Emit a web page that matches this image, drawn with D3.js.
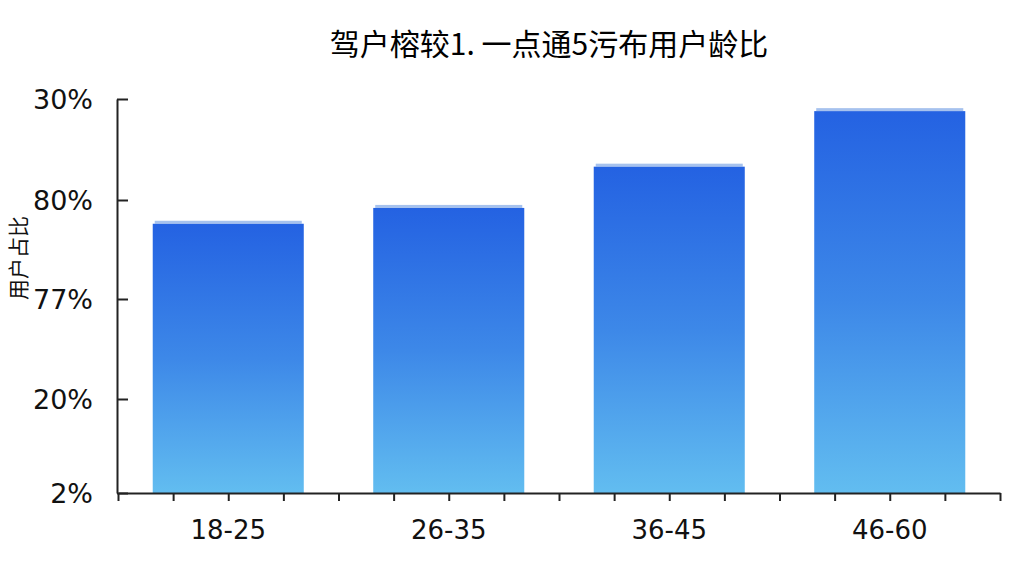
<!DOCTYPE html>
<html>
<head>
<meta charset="utf-8">
<script src="https://cdn.jsdelivr.net/npm/d3@7.9.0/dist/d3.min.js"></script>
<style>
  body { margin: 0; background: #fff; }
  svg { display: block; }
</style>
</head>
<body>
<div id="chart"></div>
<script>
// chart data
const title = '驾户榕较1. 一点通5污布用户龄比';
const yLabel = '用户占比';
const ageGroups = ['18-25', '26-35', '36-45', '46-60'];
const shares = [27.6, 29.2, 33.3, 38.8];
// y ticks (the labels are as printed on the picture)
const yTickValues = [0, 10, 20, 30, 40];
const yTickLabels = ['2%', '20%', '77%', '80%', '30%'];

const width = 1024;
const height = 576;
const margin = { top: 99, right: 24, bottom: 83, left: 117 };

const svg = d3.select('#chart')
    .append('svg')
    .attr('width', width)
    .attr('height', height)
    .attr('viewBox', `0 0 ${width} ${height}`);

// gradient for bars, dark blue on top to light blue at bottom
const defs = svg.append('defs');
const grad = defs.append('linearGradient')
    .attr('id', 'barGrad')
    .attr('x1', 0).attr('y1', 0)
    .attr('x2', 0).attr('y2', 1);
grad.append('stop').attr('offset', '0%').attr('stop-color', '#2462e2');
grad.append('stop').attr('offset', '50%').attr('stop-color', '#3d88e8');
grad.append('stop').attr('offset', '100%').attr('stop-color', '#62bdf0');

const xScale = d3.scaleBand()
    .domain(ageGroups)
    .range([margin.left + 1, width - margin.right])
    .paddingInner(0.315)
    .paddingOuter(0.1575);

// the printed grid is not evenly spaced, so use a piecewise scale
const yScale = d3.scaleLinear()
    .domain(yTickValues)
    .range([height - margin.bottom, 399, 299, 200, margin.top]);

// bars
const bars = svg.append('g').attr('class', 'bars');
bars.selectAll('rect.bar')
    .data(ageGroups)
    .join('rect')
    .attr('class', 'bar')
    .attr('x', (d) => xScale(d))
    .attr('y', (d, i) => yScale(shares[i]))
    .attr('width', xScale.bandwidth())
    .attr('height', (d, i) => yScale(0) - yScale(shares[i]))
    .attr('fill', 'url(#barGrad)');

// fuzzy top edge of the bars
bars.selectAll('rect.edge')
    .data(ageGroups)
    .join('rect')
    .attr('class', 'edge')
    .attr('x', (d) => xScale(d) + 2)
    .attr('y', (d, i) => yScale(shares[i]) - 3)
    .attr('width', xScale.bandwidth() - 4)
    .attr('height', 3)
    .attr('fill', '#5d8fe0')
    .attr('opacity', 0.55);

// x axis: ticks at every quarter band
const xTickScale = d3.scaleLinear()
    .domain([0, ageGroups.length * 4])
    .range(xScale.range());
const xAxis = d3.axisBottom(xTickScale)
    .tickValues(d3.range(0, ageGroups.length * 4 + 1))
    .tickFormat('')
    .tickSize(8)
    .tickSizeOuter(0);
const xg = svg.append('g')
    .attr('transform', `translate(0, ${yScale(0)})`)
    .call(xAxis);
xg.select('.domain').attr('stroke', '#222').attr('stroke-width', 2);
xg.selectAll('.tick line').attr('stroke', '#222').attr('stroke-width', 2);

// x labels
svg.append('g')
    .selectAll('text')
    .data(ageGroups)
    .join('text')
    .attr('x', (d) => xScale(d) + xScale.bandwidth() / 2)
    .attr('y', 539)
    .attr('text-anchor', 'middle')
    .style('font-family', 'DejaVu Sans, sans-serif')
    .style('font-size', '26px')
    .attr('fill', '#111')
    .text((d) => d);

// y axis: ticks point into the plot, labels on the left
const yAxis = d3.axisRight(yScale)
    .tickValues(yTickValues)
    .tickFormat('')
    .tickSize(11)
    .tickSizeOuter(0);
const yg = svg.append('g')
    .attr('transform', `translate(${margin.left}, 0)`)
    .call(yAxis);
yg.select('.domain').attr('stroke', '#222').attr('stroke-width', 2);
yg.selectAll('.tick line').attr('stroke', '#222').attr('stroke-width', 2);

svg.append('g')
    .selectAll('text')
    .data(yTickValues)
    .join('text')
    .attr('x', 93)
    .attr('y', (d) => yScale(d))
    .attr('dy', '0.36em')
    .attr('text-anchor', 'end')
    .style('font-family', 'DejaVu Sans, sans-serif')
    .style('font-size', '27px')
    .attr('fill', '#111')
    .text((d, i) => yTickLabels[i]);

// y axis title, squeezed against the left edge
svg.append('text')
    .attr('transform', 'translate(26, 258) rotate(-90)')
    .attr('text-anchor', 'middle')
    .style('font-family', 'Noto Sans CJK SC, sans-serif')
    .style('font-size', '21px')
    .attr('fill', '#111')
    .text(yLabel);

// title
svg.append('text')
    .attr('x', 549)
    .attr('y', 55)
    .attr('text-anchor', 'middle')
    .style('font-family', 'Noto Sans CJK SC, sans-serif')
    .style('font-size', '30px')
    .attr('fill', '#000')
    .text(title);
</script>
</body>
</html>
